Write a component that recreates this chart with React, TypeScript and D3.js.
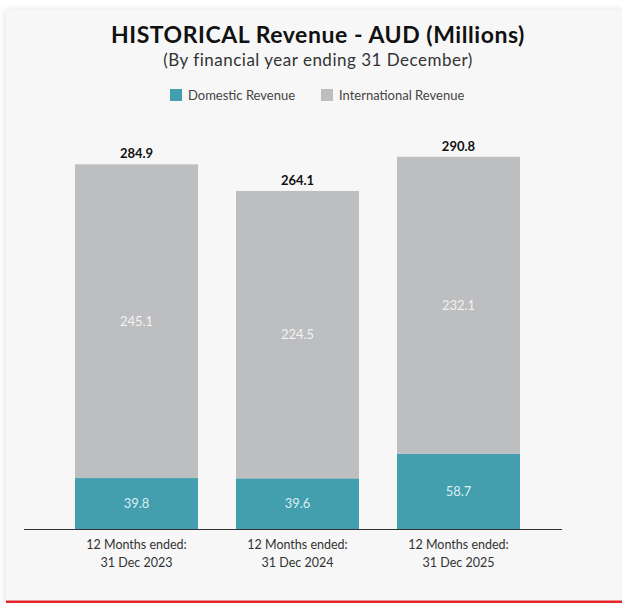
import * as d3 from "d3";
import { useEffect, useRef } from "react";

// data
const periods = ["2023", "2024", "2025"];
const periodLines = [
  ["12 Months ended:", "31 Dec 2023"],
  ["12 Months ended:", "31 Dec 2024"],
  ["12 Months ended:", "31 Dec 2025"],
];
const domesticRevenue = [39.8, 39.6, 58.7];
const internationalRevenue = [245.1, 224.5, 232.1];
const totalRevenue = [284.9, 264.1, 290.8];
const seriesNames = ["Domestic Revenue", "International Revenue"];

const WIDTH = 622;
const HEIGHT = 603;
const FONT = "Lato, 'Open Sans', sans-serif";
const colors = ["#439fad", "#bdbec0"];

export default function App() {
  const svgRef = useRef<SVGSVGElement | null>(null);

  useEffect(() => {
    if (!svgRef.current) return;
    const svg = d3.select(svgRef.current);
    svg.selectAll("*").remove();

    // panel with soft shadow
    const defs = svg.append("defs");
    const filter = defs
      .append("filter")
      .attr("id", "shadow")
      .attr("x", "-5%")
      .attr("y", "-5%")
      .attr("width", "110%")
      .attr("height", "110%");
    filter
      .append("feDropShadow")
      .attr("dx", -1)
      .attr("dy", 0)
      .attr("stdDeviation", 3)
      .attr("flood-color", "#000")
      .attr("flood-opacity", 0.12);

    svg.append("rect").attr("width", WIDTH).attr("height", HEIGHT).attr("fill", "#ffffff");
    svg
      .append("rect")
      .attr("x", 6)
      .attr("y", 10)
      .attr("width", 660)
      .attr("height", 600)
      .attr("rx", 4)
      .attr("fill", "#f7f7f7")
      .attr("filter", "url(#shadow)");
    svg
      .append("rect")
      .attr("x", 6)
      .attr("y", 600.5)
      .attr("width", WIDTH)
      .attr("height", 2.5)
      .attr("fill", "#e3262b");

    // titles
    svg
      .append("text")
      .attr("x", 318)
      .attr("y", 43)
      .attr("text-anchor", "middle")
      .attr("font-family", FONT)
      .attr("font-weight", 700)
      .attr("font-size", 23)
      .attr("letter-spacing", 0.55)
      .attr("fill", "#111")
      .text("HISTORICAL Revenue - AUD (Millions)");
    svg
      .append("text")
      .attr("x", 318)
      .attr("y", 66)
      .attr("text-anchor", "middle")
      .attr("font-family", FONT)
      .attr("font-size", 17)
      .attr("letter-spacing", 0.5)
      .attr("fill", "#333")
      .text("(By financial year ending 31 December)");

    // legend
    const legendX = [170, 321];
    seriesNames.forEach((name, i) => {
      const g = svg.append("g").attr("transform", `translate(${legendX[i]},89)`);
      g.append("rect").attr("width", 12).attr("height", 12).attr("fill", colors[i]);
      g.append("text")
        .attr("x", 18)
        .attr("y", 11)
        .attr("font-family", FONT)
        .attr("font-size", 13)
        .attr("fill", "#444")
        .text(name);
    });

    // scales
    const x = d3.scaleBand<string>().domain(periods).range([75, 520]).paddingInner(0.236).paddingOuter(0);
    const y = d3.scaleLinear().domain([0, 300]).range([529, 145]);

    const stackData = periods.map((p, i) => ({
      period: p,
      domestic: domesticRevenue[i],
      international: internationalRevenue[i],
    }));
    const stack = d3.stack<any>().keys(["domestic", "international"]);
    const series = stack(stackData);

    const layers = svg
      .selectAll(".layer")
      .data(series)
      .enter()
      .append("g")
      .attr("class", "layer")
      .attr("fill", (_d, i) => colors[i]);

    layers
      .selectAll("rect")
      .data((d) => d)
      .enter()
      .append("rect")
      .attr("x", (d: any) => x(d.data.period)!)
      .attr("width", x.bandwidth())
      .attr("y", (d) => y(d[1]))
      .attr("height", (d) => y(d[0]) - y(d[1]));

    // segment labels
    series.forEach((s, si) => {
      svg
        .append("g")
        .selectAll("text")
        .data(s)
        .enter()
        .append("text")
        .attr("x", (d: any) => x(d.data.period)! + x.bandwidth() / 2)
        .attr("y", (d) => (y(d[0]) + y(d[1])) / 2 + 4.5)
        .attr("text-anchor", "middle")
        .attr("font-family", FONT)
        .attr("font-size", 13)
        .attr("fill", si === 0 ? "#d8eef2" : "#f2f2f2")
        .text((d: any) => d.data[s.key].toFixed(1));
    });

    // totals
    svg
      .append("g")
      .selectAll("text")
      .data(periods)
      .enter()
      .append("text")
      .attr("x", (p) => x(p)! + x.bandwidth() / 2)
      .attr("y", (_p, i) => y(totalRevenue[i]) - 6)
      .attr("text-anchor", "middle")
      .attr("font-family", FONT)
      .attr("font-weight", 700)
      .attr("font-size", 13)
      .attr("fill", "#111")
      .text((_p, i) => totalRevenue[i].toFixed(1));

    // x axis
    svg
      .append("line")
      .attr("x1", 24)
      .attr("x2", 562)
      .attr("y1", y(0) + 0.5)
      .attr("y2", y(0) + 0.5)
      .attr("stroke", "#333")
      .attr("stroke-width", 1.2);

    const labels = svg
      .append("g")
      .selectAll("text")
      .data(periods)
      .enter()
      .append("text")
      .attr("text-anchor", "middle")
      .attr("font-family", FONT)
      .attr("font-size", 12.5)
      .attr("fill", "#333");
    labels.each(function (p, i) {
      const t = d3.select(this);
      periodLines[i].forEach((line, li) => {
        t.append("tspan")
          .attr("x", x(p)! + x.bandwidth() / 2)
          .attr("y", 549 + li * 18)
          .text(line);
      });
    });
  }, []);

  return (
    <svg
      ref={svgRef}
      width={WIDTH}
      height={HEIGHT}
      style={{ position: "absolute", left: 0, top: 0, display: "block" }}
    ></svg>
  );
}
